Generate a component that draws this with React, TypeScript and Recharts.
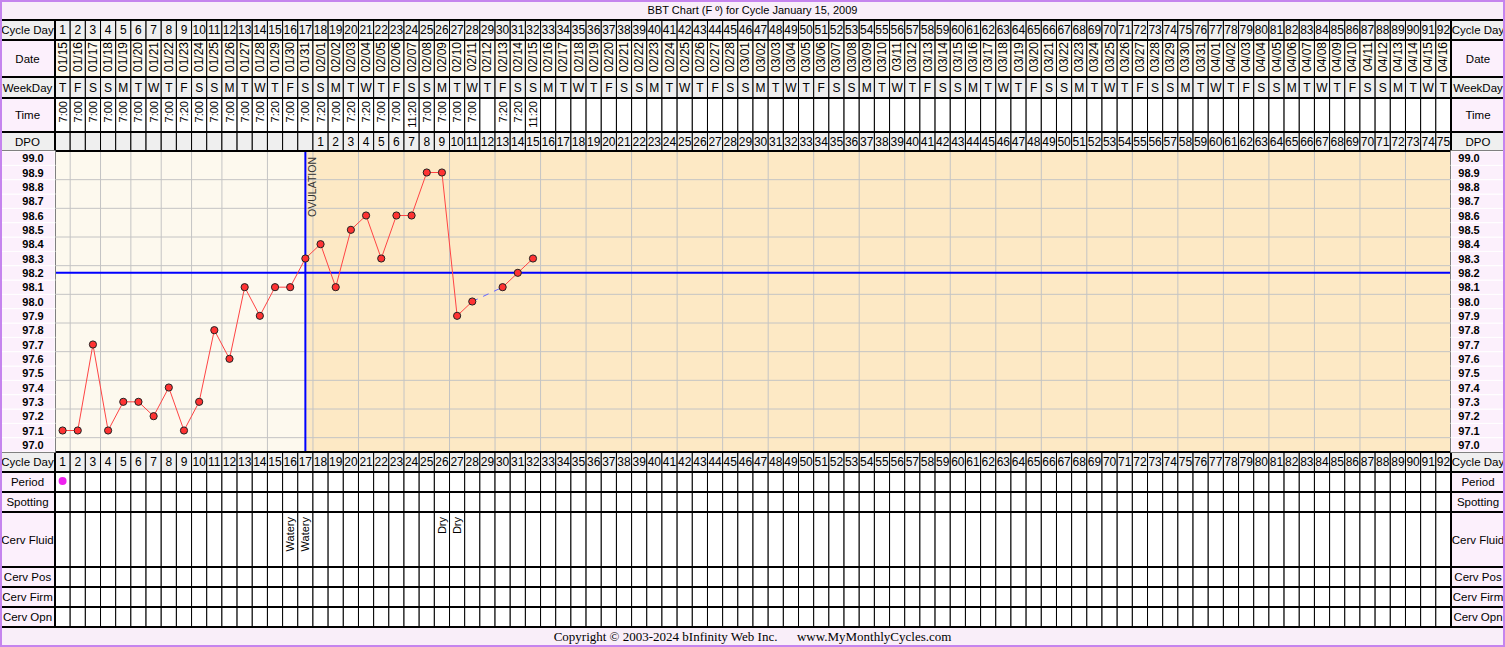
import React from 'react';
import {
  ComposedChart,
  Line,
  XAxis,
  YAxis,
  CartesianGrid,
  ReferenceArea,
  ReferenceLine,
} from 'recharts';

// ---------------- data ----------------
const cycleDays = Array.from({ length: 92 }, (_, i) => i + 1);

const dates = [
  '01/15', '01/16', '01/17', '01/18', '01/19', '01/20', '01/21', '01/22', '01/23', '01/24', '01/25', '01/26', '01/27', '01/28', '01/29', '01/30', '01/31',
  '02/01', '02/02', '02/03', '02/04', '02/05', '02/06', '02/07', '02/08', '02/09', '02/10', '02/11', '02/12', '02/13', '02/14', '02/15', '02/16', '02/17', '02/18', '02/19', '02/20', '02/21', '02/22', '02/23', '02/24', '02/25', '02/26', '02/27', '02/28',
  '03/01', '03/02', '03/03', '03/04', '03/05', '03/06', '03/07', '03/08', '03/09', '03/10', '03/11', '03/12', '03/13', '03/14', '03/15', '03/16', '03/17', '03/18', '03/19', '03/20', '03/21', '03/22', '03/23', '03/24', '03/25', '03/26', '03/27', '03/28', '03/29', '03/30', '03/31',
  '04/01', '04/02', '04/03', '04/04', '04/05', '04/06', '04/07', '04/08', '04/09', '04/10', '04/11', '04/12', '04/13', '04/14', '04/15', '04/16',
];

const weekdays = 'TFSSMTW TFSSMTW TFSSMTW TFSSMTW TFSSMTW TFSSMTW TFSSMTW TFSSMTW TFSSMTW TFSSMTW TFSSMTW TFSSMTW TFSSMTW T'
  .replace(/ /g, '')
  .split('');

const times = [
  '7:00', '7:00', '7:00', '7:00', '7:00', '7:00', '7:00', '7:00', '7:20', '7:00',
  '7:00', '7:00', '7:00', '7:00', '7:20', '7:00', '7:00', '7:20', '7:00', '7:20',
  '7:20', '7:00', '7:00', '11:20', '7:00', '7:00', '7:00', '7:00', '', '7:20',
  '7:20', '11:20',
];

const dpoLabels: (number | null)[] = [
  null, null, null, null, null, null, null, null, null, null, null, null, null, null, null, null, null,
  1, 2, 3, 4, 5, 6, 7, 8, 9, 10, 11, 12, 13, 14, 15, 16, 17, 18, 19, 20, 21, 22, 23, 24, 25,
  26, 27, 28, 29, 30, 31, 32, 33, 34, 35, 36, 37, 38, 39, 40, 41, 42, 43, 44, 45, 46, 47, 48, 49, 50,
  51, 52, 53, 54, 55, 56, 57, 58, 59, 60, 61, 62, 63, 64, 65, 66, 67, 68, 69, 70, 71, 72, 73, 74, 75,
];

const temps: (number | null)[] = [
  97.1, 97.1, 97.7, 97.1, 97.3, 97.3, 97.2, 97.4, 97.1, 97.3,
  97.8, 97.6, 98.1, 97.9, 98.1, 98.1, 98.3, 98.4, 98.1, 98.5,
  98.6, 98.3, 98.6, 98.6, 98.9, 98.9, 97.9, 98.0, null, 98.1,
  98.2, 98.3,
];

const periodDays = [1];
const cervFluid: Record<number, string> = { 16: 'Watery', 17: 'Watery', 26: 'Dry', 27: 'Dry' };

const tempLabels = [
  97.0, 97.1, 97.2, 97.3, 97.4, 97.5, 97.6, 97.7, 97.8, 97.9,
  98.0, 98.1, 98.2, 98.3, 98.4, 98.5, 98.6, 98.7, 98.8, 98.9, 99.0,
];

const coverline = 98.2;
const ovulationDay = 17;

// bridge segments over missing temperatures (dashed)
const bridge: (number | null)[] = cycleDays.map(() => null);
temps.forEach((t, i) => {
  if (t === null && i > 0 && temps[i - 1] != null && temps[i + 1] != null) {
    bridge[i - 1] = temps[i - 1];
    bridge[i + 1] = temps[i + 1];
  }
});

const data = cycleDays.map((d, i) => ({
  day: d,
  temp: temps[i] ?? null,
  bridge: bridge[i],
}));

// ---------------- layout / style ----------------
const W = 1505;
const H = 647;
const LEFT_W = 55;
const RIGHT_W = 54;
const N = cycleDays.length;
const COL_W = (W - LEFT_W - RIGHT_W) / N;
const PLOT_H = 301;
const TEMP_CELL = PLOT_H / 21;
const DOMAIN_X: [number, number] = [0.5, 92.5];
const DOMAIN_Y: [number, number] = [96.95, 99.05];
const xBounds = Array.from({ length: N + 1 }, (_, k) => k + 0.5);
const yBounds = Array.from({ length: 22 }, (_, k) => (9695 + 10 * k) / 100);

const FONT = '"Liberation Sans", Arial, Helvetica, sans-serif';
const PINK = '#fcf0fc';
const GRAY = '#efefef';
const CREAM_CELL = '#fdf9ed';
const PLOT_CREAM = '#fdf9ee';
const PLOT_ORANGE = '#fde9c5';
const BG = '#f9eef9';

type Row = {
  key: string;
  label: string;
  h: number;
  fill: string;
  labelFill: string;
  cell?: (i: number, cx: number, top: number, h: number) => React.ReactNode;
};

const centerText = (txt: React.ReactNode, cx: number, top: number, h: number, size = 12, bold = false) => (
  <text
    x={cx}
    y={top + h / 2}
    textAnchor="middle"
    dominantBaseline="central"
    fontSize={size}
    fontWeight={bold ? 'bold' : 'normal'}
    fontFamily={FONT}
    fill="#000"
  >
    {txt}
  </text>
);

const vertText = (txt: string, cx: number, top: number, pad: number, size = 11) => (
  <text
    transform={`translate(${cx},${top + pad}) rotate(-90)`}
    textAnchor="end"
    dominantBaseline="central"
    fontSize={size}
    fontFamily={FONT}
    fill="#000"
  >
    {txt}
  </text>
);

// ids are chosen so their sorted order stacks rows outward from the plot
const topRows: Row[] = [
  {
    key: 't1_dpo', label: 'DPO', h: 19, fill: GRAY, labelFill: GRAY,
    cell: (i, cx, top, h) => (dpoLabels[i] != null ? centerText(String(dpoLabels[i]), cx, top, h, 12) : null),
  },
  {
    key: 't2_time', label: 'Time', h: 34, fill: '#ffffff', labelFill: PINK,
    cell: (i, cx, top) => (times[i] ? vertText(times[i], cx, top, 3, 11) : null),
  },
  {
    key: 't3_wd', label: 'WeekDay', h: 21, fill: GRAY, labelFill: GRAY,
    cell: (i, cx, top, h) => centerText(weekdays[i], cx, top, h, 12),
  },
  {
    key: 't4_date', label: 'Date', h: 37, fill: CREAM_CELL, labelFill: PINK,
    cell: (i, cx, top) => vertText(dates[i], cx, top, 2, 12),
  },
  {
    key: 't5_cd', label: 'Cycle Day', h: 20, fill: GRAY, labelFill: GRAY,
    cell: (i, cx, top, h) => centerText(String(cycleDays[i]), cx, top, h, 12),
  },
];

const bottomRows: Row[] = [
  {
    key: 'b1_cd', label: 'Cycle Day', h: 20, fill: GRAY, labelFill: GRAY,
    cell: (i, cx, top, h) => centerText(String(cycleDays[i]), cx, top, h, 12),
  },
  {
    key: 'b2_period', label: 'Period', h: 20, fill: '#ffffff', labelFill: PINK,
    cell: (i, cx, top, h) =>
      periodDays.includes(cycleDays[i]) ? <circle cx={cx} cy={top + h / 2 - 1} r={4} fill="#ee22ee" /> : null,
  },
  { key: 'b3_spot', label: 'Spotting', h: 20, fill: '#ffffff', labelFill: PINK },
  {
    key: 'b4_cf', label: 'Cerv Fluid', h: 55, fill: '#ffffff', labelFill: PINK,
    cell: (i, cx, top) => (cervFluid[cycleDays[i]] ? vertText(cervFluid[cycleDays[i]], cx, top, 5, 11) : null),
  },
  { key: 'b5_cpos', label: 'Cerv Pos', h: 20, fill: '#ffffff', labelFill: PINK },
  { key: 'b6_cfirm', label: 'Cerv Firm', h: 20, fill: '#ffffff', labelFill: PINK },
  { key: 'b7_copn', label: 'Cerv Opn', h: 20, fill: '#ffffff', labelFill: PINK },
];

function makeTick(row: Row, orient: 'top' | 'bottom') {
  return (props: any) => {
    const { x, y, payload } = props;
    const day = Number(payload.value);
    const i = day - 1;
    const top = orient === 'top' ? y - row.h : y;
    const left = x - COL_W / 2;
    const right = x + COL_W / 2;
    return (
      <g>
        <rect x={left} y={top} width={COL_W} height={row.h} fill={row.fill} stroke="#000" strokeWidth={1} />
        {row.cell ? row.cell(i, x, top, row.h) : null}
        {i === 0 ? (
          <g>
            <rect x={0} y={top} width={left} height={row.h} fill={row.labelFill} />
            {centerText(row.label, left / 2, top, row.h, 11.5)}
            <line x1={left} x2={left} y1={top} y2={top + row.h} stroke="#000" strokeWidth={2} />
          </g>
        ) : null}
        {i === N - 1 ? (
          <g>
            <rect x={right} y={top} width={W - right} height={row.h} fill={row.labelFill} />
            {centerText(row.label, (right + W) / 2, top, row.h, 11.5)}
            <line x1={right} x2={right} y1={top} y2={top + row.h} stroke="#000" strokeWidth={2} />
            <line x1={0} x2={W} y1={top} y2={top} stroke="#000" strokeWidth={2} />
            <line x1={0} x2={W} y1={top + row.h} y2={top + row.h} stroke="#000" strokeWidth={2} />
          </g>
        ) : null}
      </g>
    );
  };
}

const TempTickLeft = (props: any) => {
  const { x, y, payload } = props;
  return (
    <g>
      <rect x={0} y={y - TEMP_CELL / 2} width={x} height={TEMP_CELL} fill={PINK} stroke="#ffffff" strokeWidth={1} />
      <text x={x - 22} y={y} textAnchor="middle" dominantBaseline="central" fontSize={11} fontWeight="bold" fontFamily={FONT} fill="#000">
        {Number(payload.value).toFixed(1)}
      </text>
    </g>
  );
};

const TempTickRight = (props: any) => {
  const { x, y, payload } = props;
  return (
    <g>
      <rect x={x} y={y - TEMP_CELL / 2} width={W - x} height={TEMP_CELL} fill={PINK} stroke="#ffffff" strokeWidth={1} />
      <text x={x + 18} y={y} textAnchor="middle" dominantBaseline="central" fontSize={11} fontWeight="bold" fontFamily={FONT} fill="#000">
        {Number(payload.value).toFixed(1)}
      </text>
    </g>
  );
};

const RedDot = (props: any) => {
  const { cx, cy, value } = props;
  if (value == null || cx == null || cy == null) return <g />;
  return <circle cx={cx} cy={cy} r={3.6} fill="#ff3333" stroke="#222" strokeWidth={1} />;
};

const OvulationLabel = (props: any) => {
  const vb = props.viewBox || {};
  return (
    <text
      transform={`translate(${vb.x + 7},${vb.y + 6}) rotate(-90)`}
      textAnchor="end"
      dominantBaseline="central"
      fontSize={10.5}
      fontFamily={FONT}
      fill="#333"
    >
      OVULATION
    </text>
  );
};

export default function App() {
  return (
    <div style={{ position: 'absolute', left: 0, top: 0, width: W, height: H, background: BG, overflow: 'hidden' }}>
      <div
        style={{
          position: 'absolute', left: 0, top: 0, width: W, height: 20, lineHeight: '20px',
          textAlign: 'center', fontFamily: FONT, fontSize: 11, color: '#000',
        }}
      >
        BBT Chart (F º) for Cycle January 15, 2009
      </div>
      <div style={{ position: 'absolute', left: 0, top: 0 }}>
        <ComposedChart width={W} height={H} data={data} margin={{ top: 20, right: 0, bottom: 20, left: 0 }}>
          <XAxis xAxisId="main" dataKey="day" type="number" domain={DOMAIN_X} ticks={xBounds} height={0} hide allowDataOverflow />
          <YAxis yAxisId="main" type="number" domain={DOMAIN_Y} ticks={yBounds} width={0} hide allowDataOverflow />

          {topRows.map((row) => (
            <XAxis
              key={row.key}
              xAxisId={row.key}
              orientation="top"
              dataKey="day"
              type="number"
              domain={DOMAIN_X}
              ticks={cycleDays}
              interval={0}
              height={row.h}
              tickSize={0}
              tickMargin={0}
              tickLine={false}
              axisLine={false}
              allowDataOverflow
              tick={makeTick(row, 'top')}
            />
          ))}
          {bottomRows.map((row) => (
            <XAxis
              key={row.key}
              xAxisId={row.key}
              orientation="bottom"
              dataKey="day"
              type="number"
              domain={DOMAIN_X}
              ticks={cycleDays}
              interval={0}
              height={row.h}
              tickSize={0}
              tickMargin={0}
              tickLine={false}
              axisLine={false}
              allowDataOverflow
              tick={makeTick(row, 'bottom')}
            />
          ))}

          <YAxis
            yAxisId="tl"
            orientation="left"
            type="number"
            domain={DOMAIN_Y}
            ticks={tempLabels}
            interval={0}
            width={LEFT_W}
            tickSize={0}
            tickMargin={0}
            tickLine={false}
            axisLine={{ stroke: '#000', strokeWidth: 2 }}
            allowDataOverflow
            tick={<TempTickLeft />}
          />
          <YAxis
            yAxisId="tr"
            orientation="right"
            type="number"
            domain={DOMAIN_Y}
            ticks={tempLabels}
            interval={0}
            width={RIGHT_W}
            tickSize={0}
            tickMargin={0}
            tickLine={false}
            axisLine={{ stroke: '#000', strokeWidth: 2 }}
            allowDataOverflow
            tick={<TempTickRight />}
          />

          <ReferenceArea xAxisId="main" yAxisId="main" x1={0.5} x2={ovulationDay} fill={PLOT_CREAM} fillOpacity={1} stroke="none" zIndex={-200} />
          <ReferenceArea xAxisId="main" yAxisId="main" x1={ovulationDay} x2={92.5} fill={PLOT_ORANGE} fillOpacity={1} stroke="none" zIndex={-200} />

          <CartesianGrid xAxisId="main" yAxisId="main" stroke="#c4c4c4" strokeWidth={1} />

          <ReferenceLine xAxisId="main" yAxisId="main" y={coverline} stroke="#0000ff" strokeWidth={2} />
          <ReferenceLine
            xAxisId="main"
            yAxisId="main"
            x={ovulationDay}
            stroke="#0000ff"
            strokeWidth={2}
            label={<OvulationLabel />}
          />

          <Line
            xAxisId="main"
            yAxisId="main"
            dataKey="bridge"
            stroke="#6666ff"
            strokeWidth={1}
            strokeDasharray="6 6"
            connectNulls
            dot={false}
            activeDot={false}
            isAnimationActive={false}
          />
          <Line
            xAxisId="main"
            yAxisId="main"
            dataKey="temp"
            stroke="#ff4444"
            strokeWidth={1}
            connectNulls={false}
            dot={<RedDot />}
            activeDot={false}
            isAnimationActive={false}
          />
        </ComposedChart>
      </div>
      <div
        style={{
          position: 'absolute', left: 0, top: 627, width: W, height: 20, lineHeight: '20px',
          textAlign: 'center', fontFamily: '"Liberation Serif", "Times New Roman", serif', fontSize: 13, color: '#000',
          whiteSpace: 'pre',
        }}
      >
        {'Copyright © 2003-2024 bInfinity Web Inc.      www.MyMonthlyCycles.com'}
      </div>
      <div
        style={{
          position: 'absolute', left: 0, top: 0, width: W, height: H, boxSizing: 'border-box',
          border: '2px solid #c584ee', pointerEvents: 'none',
        }}
      />
    </div>
  );
}
